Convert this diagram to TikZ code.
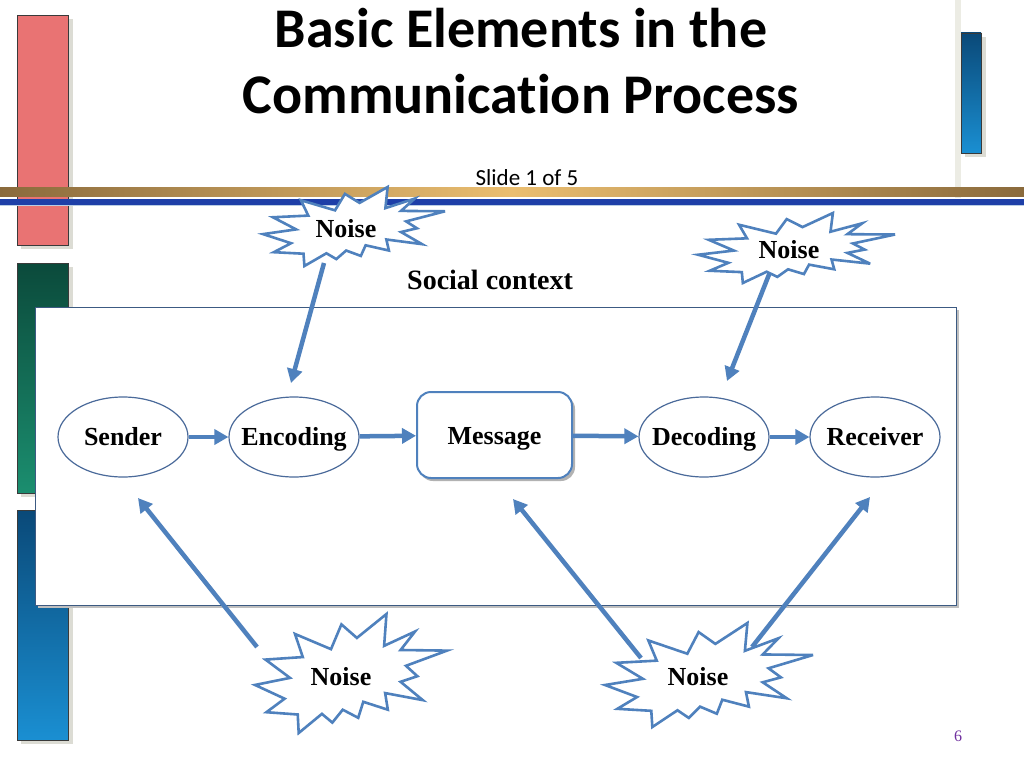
\documentclass[tikz,border=0pt]{standalone}
\usepackage{fontspec}
\setmainfont{Liberation Serif}
\newfontfamily\calibri[Ligatures=NoCommon]{Carlito}
\usetikzlibrary{shapes.geometric,arrows.meta}
\definecolor{arrc}{HTML}{4F81BD}
\definecolor{ellc}{HTML}{4A6A9A}
\definecolor{boxc}{HTML}{3C5A82}
\definecolor{pinkc}{HTML}{E97373}
\definecolor{shadc}{HTML}{DCDCD4}
\definecolor{greentop}{HTML}{0B4A3B}
\definecolor{greenbot}{HTML}{1B8E6F}
\definecolor{bluetop}{HTML}{0A4978}
\definecolor{bluebot}{HTML}{1A8FD2}
\definecolor{goldend}{HTML}{8A6A3C}
\definecolor{goldmid}{HTML}{EBBE70}
\definecolor{lineblue}{HTML}{1E3FA8}
\definecolor{pagec}{HTML}{70309F}
\definecolor{railc}{HTML}{ECECE4}
\definecolor{barline}{HTML}{3A3A3A}
\tikzset{
  lbl/.style={font=\fontsize{26}{30}\selectfont\bfseries, text height=18pt, text depth=2pt},
  ellnode/.style={ellipse, draw=ellc, line width=1.2pt, fill=white,
    minimum width=130pt, minimum height=80pt, inner xsep=-8pt, inner ysep=-2pt, lbl},
  msgnode/.style={rectangle, rounded corners=14pt, draw=arrc, line width=2pt,
    fill=white, minimum width=155pt, minimum height=86pt, inner sep=0pt, lbl, text height=21pt},
  flowarrow/.style={draw=arrc, line width=4.5pt, -{Triangle[length=14pt,width=15pt]}},
  starline/.style={draw=arrc, line width=2.6pt, fill=white, miter limit=6},
  noisetxt/.style={lbl, inner sep=0pt},
  decobar/.style={draw=barline, line width=0.6pt},
}
\newcommand{\noiseshape}[4]{%
  \begin{scope}[shift={(#1,#2)},xscale=#3/100,yscale=#4/100]
    \draw[starline] (53.06,20.10) -- (68.47,0) -- (67.25,26.75) -- (83.37,14.69)
      -- (75.83,30.24) -- (100,30.76) -- (78.63,43.53) -- (84.58,52.27)
      -- (75.83,56.99) -- (87.39,72.37) -- (67.78,66.44) -- (69.18,80.42)
      -- (56.39,73.77) -- (53.76,87.23) -- (45.70,80.42) -- (40.28,91.26)
      -- (34.85,83.91) -- (22.76,100) -- (22.25,84.44) -- (5.95,82.52)
      -- (15.42,71.16) -- (0,59.62) -- (18.22,53.67) -- (5.43,38.29)
      -- (24.87,36.19) -- (20.84,16.78) -- (39.58,29.55) -- (45.01,8.74) -- cycle;
  \end{scope}}
\begin{document}
\begin{tikzpicture}[x=1pt,y=-1pt]
\useasboundingbox (0,0) rectangle (1024,768);
\fill[white] (0,0) rectangle (1024,768);
% right rail
\fill[railc] (955,0) rectangle (961,198);
% left decorative bars
\fill[shadc] (21,19) rectangle (73,249);
\fill[pinkc] (17,15) rectangle (68,245);
\draw[decobar] (17,15) rectangle (68,245);
\fill[shadc] (21,267) rectangle (73,497);
\shade[top color=greentop, bottom color=greenbot] (17,263) rectangle (68,493);
\draw[decobar] (17,263) rectangle (68,493);
\fill[shadc] (21,514) rectangle (73,744);
\shade[top color=bluetop, bottom color=bluebot] (17,510) rectangle (68,740);
\draw[decobar] (17,510) rectangle (68,740);
% right small bar
\fill[shadc] (965,37) rectangle (986,157);
\shade[top color=bluetop, bottom color=bluebot] (961,33) rectangle (981,153);
\draw[decobar] (961,33) rectangle (981,153);
% horizontal bars
\shade[left color=goldend, right color=goldend, middle color=goldmid] (0,187) rectangle (1024,196);
\fill[lineblue] (0,199) rectangle (1024,204.5);
\fill[arrc!40] (0,204.5) rectangle (1024,206);
% title
\node[font=\calibri\bfseries\fontsize{56}{63}\selectfont, anchor=base] (t1) at (521,48) {Basic Elements in the};
\node[font=\calibri\bfseries\fontsize{56}{63}\selectfont, anchor=base] (t2) at (521,113) {Communication Process};
\node[font=\calibri\fontsize{23}{26}\selectfont, anchor=base] (sub) at (527,185) {Slide 1 of 5};
% social context box
\fill[black!25] (38,310) rectangle (959,608);
\draw[boxc, line width=1pt, fill=white] (35,307) rectangle (956,605);
\node[lbl, font=\fontsize{28}{30}\selectfont\bfseries] (soc) at (490,281) {Social context};
% main nodes
\node[ellnode] (sender) at (123,437) {Sender};
\node[ellnode] (encoding) at (294,437) {Encoding};
\fill[black!30, rounded corners=14pt] (419,395) rectangle (575,481);
\node[msgnode] (message) at (494.5,435) {Message};
\node[ellnode] (decoding) at (704,437) {Decoding};
\node[ellnode] (receiver) at (875,437) {Receiver};
\draw[flowarrow] (sender) -- (encoding);
\draw[flowarrow] (encoding) -- (message);
\draw[flowarrow] (message) -- (decoding);
\draw[flowarrow] (decoding) -- (receiver);
% noise arrows
\coordinate (s1) at (324,263); \coordinate (e1) at (291,383);
\coordinate (s2) at (770,272); \coordinate (e2) at (727,381);
\coordinate (s3) at (257,647); \coordinate (e3) at (138,498);
\coordinate (s4) at (641,658); \coordinate (e4) at (513,499);
\coordinate (s5) at (752,647); \coordinate (e5) at (870,497);
\draw[flowarrow] (s1) -- (e1);
\draw[flowarrow] (s2) -- (e2);
\draw[flowarrow] (s3) -- (e3);
\draw[flowarrow] (s4) -- (e4);
\draw[flowarrow] (s5) -- (e5);
% noise stars
\noiseshape{263}{187}{182}{79}
\node[noisetxt] (noise1) at (346,229) {Noise};
\noiseshape{698}{213}{197}{70}
\node[noisetxt] (noise2) at (789,250) {Noise};
\noiseshape{255}{614}{192}{119}
\node[noisetxt] (noise3) at (341,677) {Noise};
\noiseshape{605}{623}{208}{104}
\node[noisetxt] (noise4) at (698,677) {Noise};
% page number
\node[font=\fontsize{16}{18}\selectfont, text=pagec] (pg) at (958,736) {6};
\end{tikzpicture}
\end{document}
